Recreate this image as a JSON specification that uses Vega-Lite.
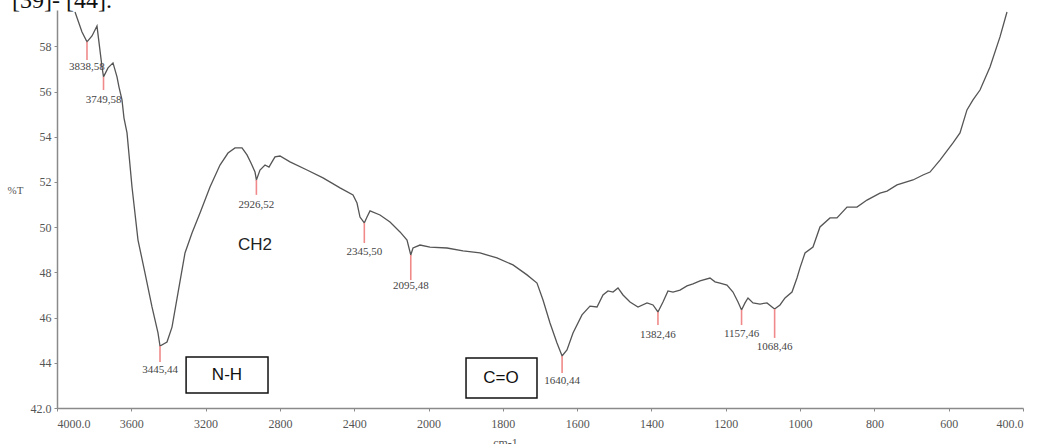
{
  "$schema": "https://vega.github.io/schema/vega-lite/v6.json",
  "width": 966,
  "height": 398,
  "autosize": "none",
  "padding": {"left": 57, "top": 10, "right": 16, "bottom": 36},
  "background": "white",
  "config": {"view": {"stroke": null}},
  "datasets": {
    "spec": [
      {"wn": 3903, "t": 59.52}, {"wn": 3865.4, "t": 58.64}, {"wn": 3838.58, "t": 58.20}, {"wn": 3811.6, "t": 58.46},
      {"wn": 3784.7, "t": 58.90}, {"wn": 3757.7, "t": 57.09}, {"wn": 3749.58, "t": 56.65}, {"wn": 3725.4, "t": 57.05},
      {"wn": 3698.5, "t": 57.27}, {"wn": 3677, "t": 56.65}, {"wn": 3666.2, "t": 56.20}, {"wn": 3650.1, "t": 55.63},
      {"wn": 3639.3, "t": 54.83}, {"wn": 3623.1, "t": 54.17}, {"wn": 3596.2, "t": 51.78}, {"wn": 3563.9, "t": 49.43},
      {"wn": 3526.2, "t": 47.97}, {"wn": 3488.6, "t": 46.47}, {"wn": 3456.3, "t": 45.32}, {"wn": 3445.44, "t": 44.74},
      {"wn": 3407.8, "t": 44.92}, {"wn": 3380.9, "t": 45.58}, {"wn": 3348.6, "t": 47.09}, {"wn": 3310.9, "t": 48.86},
      {"wn": 3273.2, "t": 49.74}, {"wn": 3230.1, "t": 50.63}, {"wn": 3176.3, "t": 51.78}, {"wn": 3122.5, "t": 52.75},
      {"wn": 3079.4, "t": 53.28}, {"wn": 3041.7, "t": 53.51}, {"wn": 3004, "t": 53.51}, {"wn": 2977.1, "t": 53.20},
      {"wn": 2955.6, "t": 52.84}, {"wn": 2934.0, "t": 52.44}, {"wn": 2926.52, "t": 52.09}, {"wn": 2907.1, "t": 52.53},
      {"wn": 2880.2, "t": 52.75}, {"wn": 2858.7, "t": 52.66}, {"wn": 2842.5, "t": 52.89}, {"wn": 2826.4, "t": 53.11},
      {"wn": 2799.5, "t": 53.15}, {"wn": 2745.6, "t": 52.89}, {"wn": 2654.1, "t": 52.53}, {"wn": 2567.9, "t": 52.18},
      {"wn": 2476.4, "t": 51.74}, {"wn": 2406.4, "t": 51.43}, {"wn": 2384.9, "t": 51.07}, {"wn": 2368.8, "t": 50.45},
      {"wn": 2345.5, "t": 50.19}, {"wn": 2331.1, "t": 50.45}, {"wn": 2314.9, "t": 50.72}, {"wn": 2261.1, "t": 50.54},
      {"wn": 2207.3, "t": 50.23}, {"wn": 2153.4, "t": 49.79}, {"wn": 2115.7, "t": 49.43}, {"wn": 2095.48, "t": 48.77},
      {"wn": 2083.4, "t": 49.08}, {"wn": 2045.7, "t": 49.21}, {"wn": 1996, "t": 49.12}, {"wn": 1950.2, "t": 49.08},
      {"wn": 1907.1, "t": 48.95}, {"wn": 1861.4, "t": 48.86}, {"wn": 1815.7, "t": 48.64}, {"wn": 1772.6, "t": 48.33},
      {"wn": 1734.9, "t": 47.89}, {"wn": 1708, "t": 47.53}, {"wn": 1691.8, "t": 46.78}, {"wn": 1673.0, "t": 45.76},
      {"wn": 1654.2, "t": 44.88}, {"wn": 1640.44, "t": 44.30}, {"wn": 1627.3, "t": 44.57}, {"wn": 1611.1, "t": 45.32},
      {"wn": 1586.9, "t": 46.12}, {"wn": 1565.4, "t": 46.51}, {"wn": 1546.5, "t": 46.47}, {"wn": 1530.4, "t": 47.00},
      {"wn": 1516.9, "t": 47.18}, {"wn": 1503.4, "t": 47.13}, {"wn": 1490.0, "t": 47.31}, {"wn": 1476.5, "t": 47.00},
      {"wn": 1457.7, "t": 46.69}, {"wn": 1436.2, "t": 46.47}, {"wn": 1411.9, "t": 46.65}, {"wn": 1395.8, "t": 46.56},
      {"wn": 1382.46, "t": 46.25}, {"wn": 1368.9, "t": 46.69}, {"wn": 1355.5, "t": 47.18}, {"wn": 1342.0, "t": 47.13},
      {"wn": 1323.1, "t": 47.22}, {"wn": 1304.3, "t": 47.40}, {"wn": 1288.1, "t": 47.49}, {"wn": 1269.3, "t": 47.62},
      {"wn": 1242.4, "t": 47.75}, {"wn": 1228.9, "t": 47.58}, {"wn": 1215.5, "t": 47.53}, {"wn": 1196.7, "t": 47.44},
      {"wn": 1180.5, "t": 47.13}, {"wn": 1167.0, "t": 46.69}, {"wn": 1157.46, "t": 46.34}, {"wn": 1148.2, "t": 46.65},
      {"wn": 1140.1, "t": 46.87}, {"wn": 1126.7, "t": 46.65}, {"wn": 1107.8, "t": 46.60}, {"wn": 1089.0, "t": 46.65},
      {"wn": 1075.5, "t": 46.47}, {"wn": 1068.46, "t": 46.38}, {"wn": 1054.0, "t": 46.56}, {"wn": 1040.5, "t": 46.87},
      {"wn": 1021.7, "t": 47.13}, {"wn": 1008.3, "t": 47.75}, {"wn": 1000.2, "t": 48.20}, {"wn": 986.7, "t": 48.86},
      {"wn": 965.2, "t": 49.12}, {"wn": 946.4, "t": 50.01}, {"wn": 919.4, "t": 50.41}, {"wn": 900.6, "t": 50.41},
      {"wn": 873.7, "t": 50.89}, {"wn": 846.8, "t": 50.89}, {"wn": 819.9, "t": 51.20}, {"wn": 784.9, "t": 51.51},
      {"wn": 766.0, "t": 51.60}, {"wn": 739.1, "t": 51.87}, {"wn": 696.1, "t": 52.09}, {"wn": 669.2, "t": 52.31},
      {"wn": 650.3, "t": 52.44}, {"wn": 623.4, "t": 52.97}, {"wn": 588.4, "t": 53.73}, {"wn": 569.6, "t": 54.17},
      {"wn": 550.8, "t": 55.19}, {"wn": 534.6, "t": 55.63}, {"wn": 515.7, "t": 56.07}, {"wn": 488.8, "t": 57.09},
      {"wn": 461.9, "t": 58.42}, {"wn": 443.1, "t": 59.52}
    ],
    "peaks": [
      {"wn": 3838.58, "top": 58.20, "bottom": 57.40, "ly": 57.09, "label": "3838,58"},
      {"wn": 3749.58, "top": 56.65, "bottom": 56.07, "ly": 55.63, "label": "3749,58"},
      {"wn": 3445.44, "top": 44.74, "bottom": 44.04, "ly": 43.68, "label": "3445,44"},
      {"wn": 2926.52, "top": 52.09, "bottom": 51.43, "ly": 50.98, "label": "2926,52"},
      {"wn": 2345.50, "top": 50.19, "bottom": 49.30, "ly": 48.90, "label": "2345,50"},
      {"wn": 2095.48, "top": 48.77, "bottom": 47.66, "ly": 47.40, "label": "2095,48"},
      {"wn": 1640.44, "top": 44.30, "bottom": 43.55, "ly": 43.19, "label": "1640,44"},
      {"wn": 1382.46, "top": 46.25, "bottom": 45.67, "ly": 45.23, "label": "1382,46"},
      {"wn": 1157.46, "top": 46.34, "bottom": 45.67, "ly": 45.27, "label": "1157,46"},
      {"wn": 1068.46, "top": 46.38, "bottom": 45.10, "ly": 44.70, "label": "1068,46"}
    ],
    "boxes": [
      {"x1": 3305, "x2": 2864, "y1": 44.26, "y2": 42.66, "cx": 3085, "cy": 43.46, "label": "N-H"},
      {"x1": 1899, "x2": 1708, "y1": 44.21, "y2": 42.44, "cx": 1805, "cy": 43.33, "label": "C=O"}
    ],
    "notes": [
      {"cx": 2934, "cy": 49.21, "label": "CH2"}
    ],
    "header": [
      {"cx": 4242, "cy": 59.70, "label": "[39]- [44]."}
    ]
  },
  "layer": [
    {
      "data": {"name": "spec"},
      "mark": {"type": "line", "color": "#555555", "strokeWidth": 1.3, "clip": true},
      "encoding": {
        "x": {"field": "wn", "type": "quantitative",
          "scale": {"domain": [4000, 2000, 400], "range": [0, 371.5, 966], "zero": false, "nice": false},
          "axis": {"values": [4000, 3600, 3200, 2800, 2400, 2000, 1800, 1600, 1400, 1200, 1000, 800, 600, 400],
            "labelExpr": "datum.value == 4000 ? '4000.0' : (datum.value == 400 ? '400.0' : datum.value)",
            "grid": false, "domainColor": "#8a8a8a", "domainWidth": 1.5, "tickColor": "#8a8a8a", "tickSize": 3,
            "labelFont": "Liberation Serif", "labelFontSize": 12, "labelColor": "#555555", "labelPadding": 7,
            "title": "cm-1", "titleFont": "Liberation Serif", "titleFontSize": 12, "titleFontWeight": "normal", "titleColor": "#555555",
            "titleX": 448, "titleY": 29, "titleBaseline": "top", "titleAlign": "center"}},
        "y": {"field": "t", "type": "quantitative",
          "scale": {"domain": [42, 59.61], "zero": false, "nice": false},
          "axis": {"values": [42, 44, 46, 48, 50, 52, 54, 56, 58],
            "labelExpr": "datum.value == 42 ? '42.0' : datum.value",
            "grid": false, "domainColor": "#8a8a8a", "domainWidth": 1.5, "tickColor": "#8a8a8a", "tickSize": 3,
            "labelFont": "Liberation Serif", "labelFontSize": 12, "labelColor": "#555555", "labelPadding": 3,
            "title": "%T", "titleFont": "Liberation Serif", "titleFontSize": 11, "titleFontWeight": "normal", "titleColor": "#555555",
            "titleAngle": 0, "titleX": -42, "titleY": 180, "titleAlign": "center", "titleBaseline": "middle"}}
      }
    },
    {
      "data": {"name": "peaks"},
      "mark": {"type": "rule", "color": "#f08a8a", "strokeWidth": 1.6},
      "encoding": {
        "x": {"field": "wn", "type": "quantitative"},
        "y": {"field": "top", "type": "quantitative"},
        "y2": {"field": "bottom"}
      }
    },
    {
      "data": {"name": "peaks"},
      "mark": {"type": "text", "font": "Liberation Serif", "fontSize": 11, "color": "#444444", "baseline": "middle", "align": "center"},
      "encoding": {
        "x": {"field": "wn", "type": "quantitative"},
        "y": {"field": "ly", "type": "quantitative"},
        "text": {"field": "label"}
      }
    },
    {
      "data": {"name": "boxes"},
      "mark": {"type": "rect", "fill": "white", "stroke": "#111111", "strokeWidth": 1.5},
      "encoding": {
        "x": {"field": "x1", "type": "quantitative"},
        "x2": {"field": "x2"},
        "y": {"field": "y1", "type": "quantitative"},
        "y2": {"field": "y2"}
      }
    },
    {
      "data": {"name": "boxes"},
      "mark": {"type": "text", "font": "Liberation Sans", "fontSize": 17, "color": "#111111", "baseline": "middle", "align": "center"},
      "encoding": {
        "x": {"field": "cx", "type": "quantitative"},
        "y": {"field": "cy", "type": "quantitative"},
        "text": {"field": "label"}
      }
    },
    {
      "data": {"name": "notes"},
      "mark": {"type": "text", "font": "Liberation Sans", "fontSize": 17, "color": "#222222", "baseline": "middle", "align": "center"},
      "encoding": {
        "x": {"field": "cx", "type": "quantitative"},
        "y": {"field": "cy", "type": "quantitative"},
        "text": {"field": "label"}
      }
    },
    {
      "data": {"name": "header"},
      "mark": {"type": "text", "font": "Liberation Serif", "fontSize": 24, "color": "#111111", "baseline": "alphabetic", "align": "left", "clip": false},
      "encoding": {
        "x": {"field": "cx", "type": "quantitative"},
        "y": {"field": "cy", "type": "quantitative"},
        "text": {"field": "label"}
      }
    }
  ]
}
